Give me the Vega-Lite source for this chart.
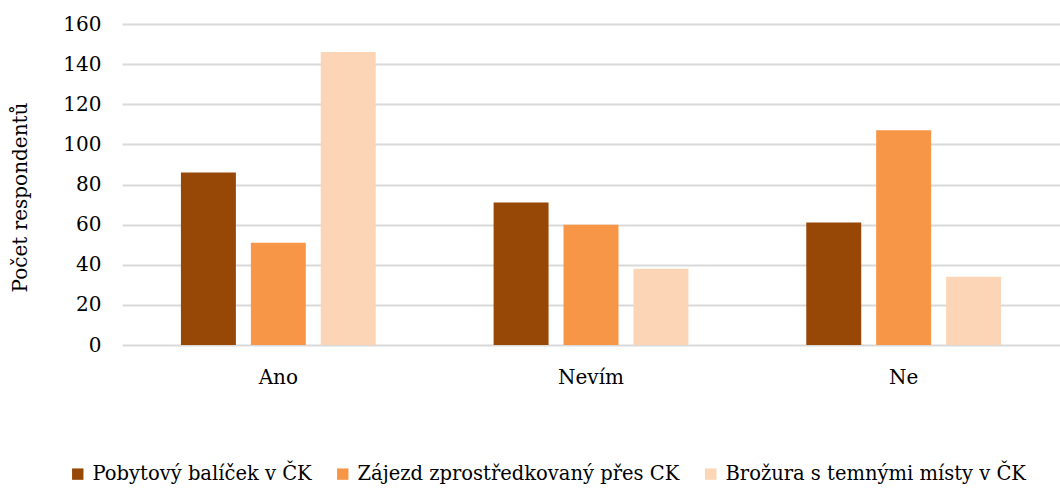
{
  "$schema": "https://vega.github.io/schema/vega-lite/v6.json",
  "autosize": "none",
  "width": 938,
  "height": 321,
  "padding": {"left": 122, "top": 24, "right": 0, "bottom": 144},
  "background": "white",
  "config": {"font": "DejaVu Serif", "view": {"stroke": null}},
  "data": {"values": [
    {"kat": "Ano", "serie": "Pobytový balíček v ČK", "pocet": 86},
    {"kat": "Ano", "serie": "Zájezd zprostředkovaný přes CK", "pocet": 51},
    {"kat": "Ano", "serie": "Brožura s temnými místy v ČK", "pocet": 146},
    {"kat": "Nevím", "serie": "Pobytový balíček v ČK", "pocet": 71},
    {"kat": "Nevím", "serie": "Zájezd zprostředkovaný přes CK", "pocet": 60},
    {"kat": "Nevím", "serie": "Brožura s temnými místy v ČK", "pocet": 38},
    {"kat": "Ne", "serie": "Pobytový balíček v ČK", "pocet": 61},
    {"kat": "Ne", "serie": "Zájezd zprostředkovaný přes CK", "pocet": 107},
    {"kat": "Ne", "serie": "Brožura s temnými místy v ČK", "pocet": 34}
  ]},
  "mark": {"type": "bar"},
  "encoding": {
    "x": {"field": "kat", "type": "nominal", "sort": ["Ano", "Nevím", "Ne"],
      "scale": {"paddingInner": 0, "paddingOuter": 0},
      "axis": {"title": null, "labelAngle": 0, "labelFontSize": 20, "labelColor": "#000", "labelPadding": 22, "ticks": false, "domain": false}},
    "xOffset": {"field": "serie", "type": "nominal", "sort": ["Pobytový balíček v ČK", "Zájezd zprostředkovaný přes CK", "Brožura s temnými místy v ČK"],
      "scale": {"paddingInner": 0.214, "paddingOuter": 0.843}},
    "y": {"field": "pocet", "type": "quantitative", "scale": {"domain": [0, 160]},
      "axis": {"title": "Počet respondentů", "titleFontSize": 20, "titleFontWeight": "normal", "titleColor": "#000", "titlePadding": 32, "titleY": 173,
        "values": [0, 20, 40, 60, 80, 100, 120, 140, 160], "labelFontSize": 20, "labelColor": "#000", "labelPadding": 21,
        "ticks": false, "domain": false, "gridColor": "#D9D9D9", "gridWidth": 2}},
    "color": {"field": "serie", "type": "nominal", "sort": ["Pobytový balíček v ČK", "Zájezd zprostředkovaný přes CK", "Brožura s temnými místy v ČK"],
      "scale": {"range": ["#974706", "#F79646", "#FBD5B5"]},
      "legend": {"title": null, "orient": "none", "direction": "horizontal", "legendX": -54, "legendY": 440, "labelLimit": 0,
        "symbolType": "square", "symbolSize": 130, "symbolStrokeWidth": 0, "symbolOpacity": 1, "labelFontSize": 19.5, "labelColor": "#000", "labelOffset": 5, "columnPadding": 21}}
  }
}
